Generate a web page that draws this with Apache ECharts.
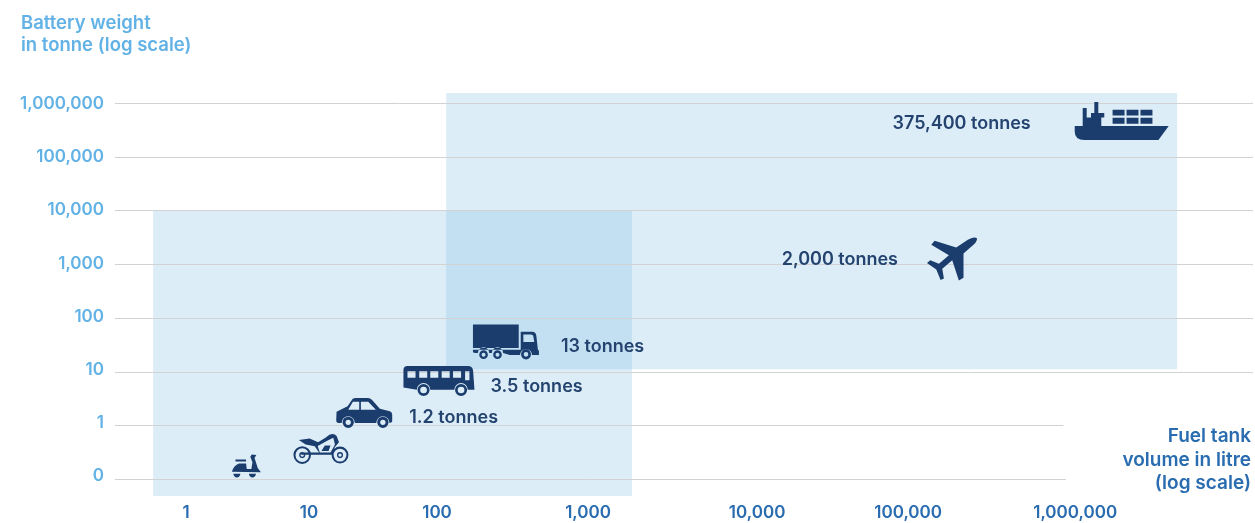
<!DOCTYPE html>
<html lang="en" style="height: 100%">

<head>
  <meta charset="UTF-8" />
  <title>Battery weight vs fuel tank volume</title>
  <script src="https://cdn.jsdelivr.net/npm/echarts@6/dist/echarts.min.js"></script>
</head>

<body style="height: 100%; margin: 0; background: #fff">
  <div id="main" style="height: 100%"></div>
  <script type="text/javascript">
    // axis ticks
    var xTicks = [1, 10, 100, 1000, 10000, 100000, 1000000];
    var xTickSlots = [0, 0.83, 1.694, 2.713, 3.854, 4.873, 6]; // the source x axis is not evenly spaced
    var yTicks = [0.1, 1, 10, 100, 1000, 10000, 100000, 1000000];
    // how far right each gridline runs, in litres
    var yGridEnds = [880000, 850000, 11600000, 11600000, 11600000, 11600000, 11600000, 11600000];

    // vehicles
    var vehicles = ["scooter", "motorbike", "car", "bus", "truck", "plane", "ship"];
    var vehicleLitres = [3.1, 12.4, 27, 103, 286, 183000, 1900000];
    var vehicleTonnes = [0.175, 0.362, 1.69, 6.68, 35.6, 1248, 462000];
    var vehicleLabels = ["", "", "1.2 tonnes", "3.5 tonnes", "13 tonnes", "2,000 tonnes", "375,400 tonnes"];

    // shaded ranges: [litres from, litres to, tonnes from, tonnes to]
    var rangeLower = [0.54, 1820, 0.048, 10000];
    var rangeUpper = [115, 4080000, 11, 1530000];

    // 轴外的标题
    var yTitle = "Battery weight\nin tonne (log scale)";
    var xTitle = "Fuel tank\nvolume in litre\n(log scale)";

    // decades are stretched differently along x, so go through the tick slots
    function xPos(litres) {
      var d = Math.log10(litres);
      var i = Math.max(0, Math.min(xTickSlots.length - 2, Math.floor(d)));
      return xTickSlots[i] + (d - i) * (xTickSlots[i + 1] - xTickSlots[i]);
    }

    function ring(cx, cy, r, sweep) {
      return "M" + (cx - r) + " " + cy + "A" + r + " " + r + " 0 1 " + sweep + " " + (cx + r) + " " + cy +
        "A" + r + " " + r + " 0 1 " + sweep + " " + (cx - r) + " " + cy + "Z";
    }
    function wheel(cx, cy, r, hole) {
      return ring(cx, cy, r, 1) + ring(cx, cy, hole, 0);
    }
    function box(x0, y0, x1, y1) {
      return "M" + x0 + " " + y0 + "H" + x1 + "V" + y1 + "H" + x0 + "Z";
    }
    function hole(x0, y0, x1, y1) {
      return "M" + x0 + " " + y0 + "V" + y1 + "H" + x1 + "V" + y0 + "Z";
    }

    var icons = {
      scooter: {
        size: [29, 23],
        path: box(50, 450, 80, 456) +
          "M40 486Q45 468 60 462H80L82 478H95L98 458L92 442L96 435L109 437L104 446L113 475L122 488Z" +
          "M44 492H64Q62 503 54 503Q46 503 44 492Z" +
          "M88 492H108Q106 503 98 503Q90 503 88 492Z"
      },
      motorbike: {
        size: [55, 30],
        path: wheel(248, 436, 26, 20) + wheel(248, 436, 9, 5) +
          wheel(360, 436, 25, 19) + wheel(360, 436, 9, 5) +
          "M238 392L270 387L295 398L318 384Q338 366 350 380L357 398L345 412L335 435H245V428H298L285 410L258 405Z" +
          "M300 428H332L345 405L340 385L322 394L294 409Z" +
          "M305 424L315 408H332L326 424Z"
      },
      car: {
        size: [56, 30],
        path: "M352 306L385 290L400 268Q403 265 410 265H447Q452 265 458 270L482 297L512 305Q519 307 519 315V332Q519 340 511 340" +
          "A20 20 0 0 0 471 340H407A20 20 0 0 0 367 340H358Q351 340 351 332Z" +
          "M387 300H420V276H401Z" +
          "M425 276V300H470L447 276Z" +
          wheel(387, 338, 17, 8) + wheel(491, 338, 17, 8)
      },
      bus: {
        size: [71, 30],
        path: "M565 169H748Q760 170 761 185L765 241H745A20 20 0 0 0 705 241H633A20 20 0 0 0 593 241L553 234V180Q553 170 565 169Z" +
          hole(565, 185, 589, 205) + hole(600, 185, 624, 205) + hole(633, 185, 657, 205) +
          hole(667, 185, 691, 205) + hole(701, 185, 725, 205) + hole(737, 185, 750, 212) +
          wheel(613, 242, 18, 10) + wheel(725, 242, 18, 10)
      },
      truck: {
        size: [66, 35],
        path: box(759, 45, 897, 115) +
          "M759 120H903V67H938Q948 67 950 78L955 122H958V136H937A18 18 0 0 0 901 136H870L850 130" +
          "A17 17 0 0 0 816 130H808A17 17 0 0 0 774 130H765L759 128Z" +
          "M911 75V97H944L941 80Q940 75 934 75Z" +
          wheel(791, 135, 13, 6) + wheel(833, 135, 13, 6) + wheel(919, 134, 15, 7)
      },
      plane: {
        size: [50, 43],
        path: "M232 460Q225 455 205 465L170 488L105 468L95 480L148 510L118 535L92 525L82 533L110 552L123 583L133 578L128 550L158 525L178 584L192 576L192 505L222 480Q235 468 232 460Z"
      },
      ship: {
        size: [94, 38],
        path: "M526 123H550V70H562V98H575V85H585V52H597V85H615V98H606V123H809L778 165H555Q526 165 526 140Z" +
          box(640, 75, 676, 92) + box(682, 75, 718, 92) + box(724, 75, 760, 92) +
          box(640, 99, 676, 117) + box(682, 99, 718, 117) + box(724, 99, 760, 117)
      }
    };

    // label placement next to each icon
    var labelPlace = {
      car: { position: "right", distance: 17, offset: [0, 5] },
      bus: { position: "right", distance: 16, offset: [0, 6] },
      truck: { position: "right", distance: 22, offset: [0, 5] },
      plane: { position: "left", distance: 29, offset: [0, 1] },
      ship: { position: "left", distance: 44, offset: [0, 3] }
    };

    var labelFont = "Inter, Roboto, sans-serif";

    var vehicleData = vehicles.map(function (name, i) {
      var place = labelPlace[name];
      return {
        name: name,
        value: [xPos(vehicleLitres[i]), vehicleTonnes[i], vehicleLabels[i]],
        symbol: "path://" + icons[name].path,
        symbolSize: icons[name].size,
        label: place ? {
          show: true,
          position: place.position,
          distance: place.distance,
          offset: place.offset,
          formatter: vehicleLabels[i]
        } : { show: false }
      };
    });

    var myChart = echarts.init(document.getElementById("main"));

    var option = {
      animation: false,
      title: {
        text: yTitle, left: 16, top: 7,
        textStyle: { color: "#62b2e6", fontFamily: labelFont, fontSize: 18.5, fontWeight: 600, lineHeight: 22 }
      },
      graphic: {
        type: "text",
        x: 1251,
        y: 425,
        style: {
          text: xTitle,
          align: "right",
          verticalAlign: "top",
          fill: "#2a6cb0",
          fontFamily: labelFont,
          fontSize: 19,
          fontWeight: 600,
          lineHeight: 23.5
        }
      },
      grid: { left: 115, top: 86.83, width: 1138, height: 413.5 },
      xAxis: {
        type: "value",
        min: -0.479,
        max: 7.2,
        axisLine: { show: false },
        axisTick: { show: false },
        splitLine: { show: false },
        axisLabel: {
          customValues: xTickSlots,
          margin: 4,
          color: "#2a6cb0",
          fontFamily: labelFont,
          fontSize: 17,
          fontWeight: 600,
          formatter: function (v) {
            return xTicks[xTickSlots.indexOf(v)].toLocaleString("en-US");
          }
        }
      },
      yAxis: [
        { type: "log", min: 0.04, max: 2000000, show: false },
        {
          // labels only: they sit slightly above their gridlines, more so towards the bottom
          type: "log",
          position: "left",
          min: 0.03484,
          max: 2104000,
          axisLine: { show: false },
          axisTick: { show: false },
          splitLine: { show: false },
          axisLabel: {
            customValues: yTicks,
            margin: 11,
            color: "#62b2e6",
            fontFamily: labelFont,
            fontSize: 17,
            fontWeight: 600,
            formatter: function (v) {
              return v < 1 ? "0" : Math.round(v).toLocaleString("en-US");
            }
          }
        }
      ],
      series: [
        {
          // shaded ranges
          type: "custom",
          clip: false,
          z: 1,
          data: [rangeLower, rangeUpper],
          renderItem: function (params, api) {
            var a = api.coord([xPos(api.value(0)), api.value(2)]);
            var b = api.coord([xPos(api.value(1)), api.value(3)]);
            return {
              type: "rect",
              shape: { x: b[0] < a[0] ? b[0] : a[0], y: b[1], width: Math.abs(b[0] - a[0]), height: a[1] - b[1] },
              style: { fill: "rgba(110,179,225,0.235)" }
            };
          }
        },
        {
          // gridlines, the two lowest stop short
          type: "custom",
          clip: false,
          z: 2,
          data: yTicks.map(function (t, i) { return [t, yGridEnds[i]]; }),
          renderItem: function (params, api) {
            var a = api.coord([-0.479, api.value(0)]);
            var b = api.coord([xPos(api.value(1)), api.value(0)]);
            var y = Math.round(a[1]) + 0.5;
            return {
              type: "line",
              shape: { x1: a[0], y1: y, x2: b[0], y2: y },
              style: { stroke: "#d2d2d2", lineWidth: 1 }
            };
          }
        },
        {
          type: "scatter",
          z: 3,
          data: vehicleData,
          itemStyle: { color: "#1a3d6d", opacity: 1 },
          label: {
            color: "#24446f",
            fontFamily: labelFont,
            fontSize: 18,
            fontWeight: 600
          }
        }
      ]
    };

    myChart.setOption(option);
    window.addEventListener("resize", myChart.resize);
  </script>
</body>

</html>
